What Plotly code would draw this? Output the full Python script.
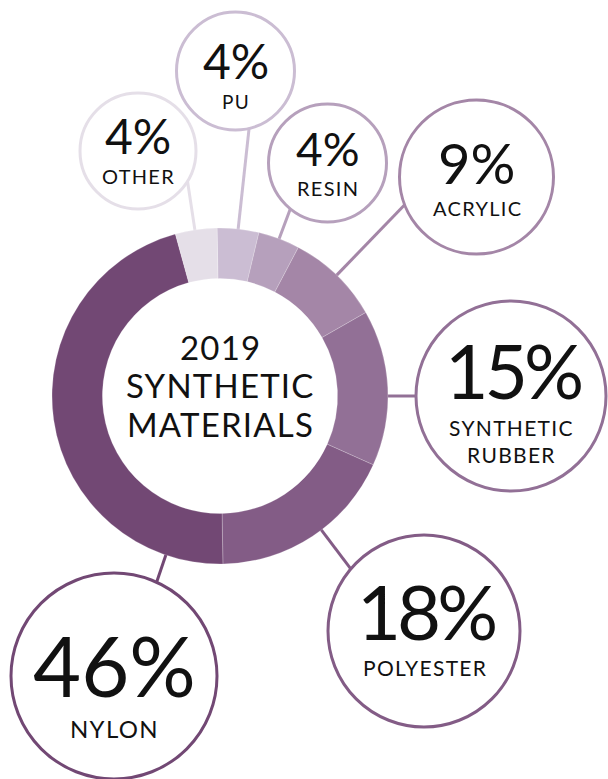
import numpy as np
import plotly.graph_objects as go

# ---- data ----
categories = ["PU", "RESIN", "ACRYLIC", "SYNTHETIC<br>RUBBER", "POLYESTER", "NYLON", "OTHER"]
values = [4, 4, 9, 15, 18, 46, 4]
pct_labels = ["4%", "4%", "9%", "15%", "18%", "46%", "4%"]
center_title = ["2019", "SYNTHETIC", "MATERIALS"]

# ---- style ----
colors = ["#cbbdd3", "#b6a0bc", "#a486a7", "#927096", "#835c86", "#724874", "#e5dfe8"]
W, H = 608, 779
CX, CY, R_OUT, HOLE = 220, 396, 168, 0.70
FONT = "Lato"

# callout layout: circle center (px), radius, line angle (deg clockwise from 12 o'clock),
# pct font size, label font size, pct y, label y, pct letter spacing
callouts = {
    "PU":        dict(c=(235.5, 71), r=59, ang=6.2, fs=48, ls=19, py=60.5, ly=101.5, sp=0),
    "RESIN":     dict(c=(327.5, 163), r=59, ang=20.6, fs=46, ls=20, py=148.5, ly=187.5, sp=0),
    "ACRYLIC":   dict(c=(476.5, 177), r=77, ang=44, fs=56, ls=20, py=162, ly=207.5, sp=0),
    "SYNTHETIC<br>RUBBER": dict(c=(511, 396), r=95, ang=90, fs=75, ls=21, py=370, ly=441, sp=-4),
    "POLYESTER": dict(c=(424, 631), r=96, ang=142.9, fs=76, ls=21, py=610.5, ly=667.5, sp=-4),
    "NYLON":     dict(c=(114, 676), r=103, ang=198.8, fs=83, ls=24, py=665, ly=728.5, sp=0),
    "OTHER":     dict(c=(138, 151), r=58, ang=-8.6, fs=48, ls=20, py=135, ly=175.5, sp=0),
}


def spaced(txt, px):
    if px == 0:
        return txt
    parts = txt.split("<br>")
    return "<br>".join(f'<span style="letter-spacing:{px}px">{p}</span>' for p in parts)


fig = go.Figure()

fig.add_trace(go.Pie(
    labels=categories, values=values, sort=False, direction="clockwise", rotation=-1,
    hole=HOLE, marker=dict(colors=colors, line=dict(color="rgba(255,255,255,0.35)", width=0.6)),
    textinfo="none", hoverinfo="label+percent", showlegend=False,
    domain=dict(x=[(CX - R_OUT) / W, (CX + R_OUT) / W],
                y=[(H - CY - R_OUT) / H, (H - CY + R_OUT) / H]),
))

shapes = []
annotations = []
for cat, pct, col in zip(categories, pct_labels, colors):
    c = callouts[cat]
    (ccx, ccy), r = c["c"], c["r"]
    a = np.deg2rad(c["ang"])
    d = np.array([np.sin(a), -np.cos(a)])
    p0 = np.array([CX, CY]) + d * (R_OUT - 1)
    o = np.array([CX, CY]) - np.array([ccx, ccy])
    b = 2 * o.dot(d)
    cc = o.dot(o) - r * r
    disc = max(b * b - 4 * cc, 0)
    t = (-b - np.sqrt(disc)) / 2
    p1 = np.array([CX, CY]) + d * t
    shapes.append(dict(type="line", xref="x", yref="y", x0=p0[0], y0=p0[1], x1=p1[0], y1=p1[1],
                       line=dict(color=col, width=3), layer="below"))
    shapes.append(dict(type="circle", xref="x", yref="y", x0=ccx - r, x1=ccx + r,
                       y0=ccy - r, y1=ccy + r, line=dict(color=col, width=3),
                       fillcolor="white", layer="above"))
    annotations.append(dict(x=ccx - c["sp"] / 2, y=c["py"], xref="x", yref="y",
                            text=spaced(pct, c["sp"]), showarrow=False,
                            font=dict(family=FONT, size=c["fs"], color="#111111"),
                            xanchor="center", yanchor="middle"))
    annotations.append(dict(x=ccx + 0.6, y=c["ly"], xref="x", yref="y",
                            text=spaced(cat, 1.3), showarrow=False,
                            font=dict(family=FONT, size=c["ls"], color="#111111"),
                            xanchor="center", yanchor="middle"))

for txt, y in zip(center_title, [346.5, 385, 423.5]):
    annotations.append(dict(x=CX + 0.6, y=y, xref="x", yref="y", text=spaced(txt, 1.2), showarrow=False,
                            font=dict(family=FONT, size=33, color="#111111"),
                            xanchor="center", yanchor="middle"))

fig.update_layout(
    width=W, height=H, margin=dict(l=0, r=0, t=0, b=0),
    paper_bgcolor="white", plot_bgcolor="rgba(0,0,0,0)",
    xaxis=dict(range=[0, W], visible=False, domain=[0, 1], fixedrange=True),
    yaxis=dict(range=[H, 0], visible=False, domain=[0, 1], fixedrange=True),
    shapes=shapes, annotations=annotations,
)

fig.write_html("out.html")
